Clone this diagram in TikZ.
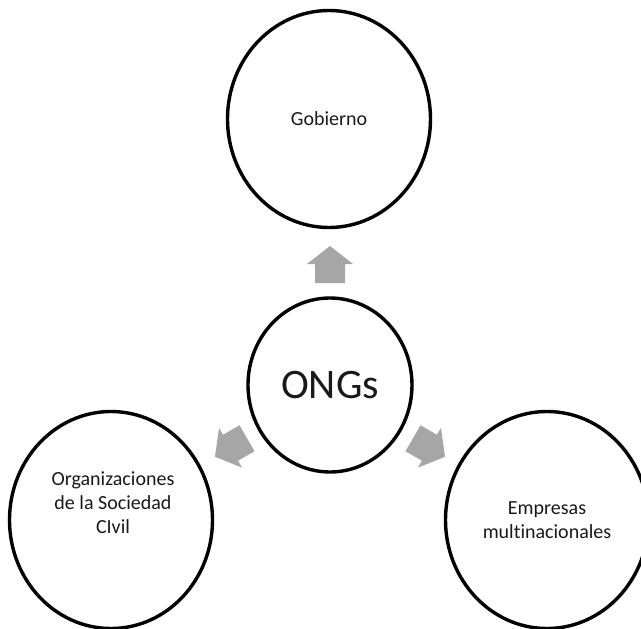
\documentclass[tikz,border=0pt]{standalone}
\usepackage{fontspec}
\setmainfont{Carlito}[Ligatures={NoCommon}]
\usetikzlibrary{shapes.geometric,calc}
\begin{document}
\begin{tikzpicture}[x=1pt,y=-1pt,
  circulo/.style={draw=black,line width=3.4pt,ellipse,minimum width=203pt,minimum height=217pt,inner sep=0pt},
  texto/.style={align=center,font=\fontsize{20}{24}\selectfont,text=black!90},
  flecha/.style={fill=black!35}]

\useasboundingbox (0,0) rectangle (641,629);

% circles
\node[circulo,texto] (gob) at (329,119) {Gobierno};
\node[circulo,texto,minimum width=164pt,minimum height=174pt,font=\fontsize{42}{50}\selectfont] (ongs) at (330,385) {ONGs};
\node[circulo] (osc) at (111,520) {};
\node[texto] (osctxt) at ($(osc.center)+(2,-17)$) {Organizaciones\\de la Sociedad\\CIvil};
\node[circulo,texto] (emp) at (547,520) {Empresas\\multinacionales};

% block arrows
\foreach \dx/\dy/\ang in {0/-120.5/90, -99/62.5/210, 99/62.5/-30} {
  \fill[flecha, shift={($(ongs.center)+(\dx,\dy)$)}, rotate=\ang]
    (-18.5,-15) -- (0.5,-15) -- (0.5,-23) -- (18.5,0) -- (0.5,23) -- (0.5,15) -- (-18.5,15) -- cycle;
}

\end{tikzpicture}
\end{document}
